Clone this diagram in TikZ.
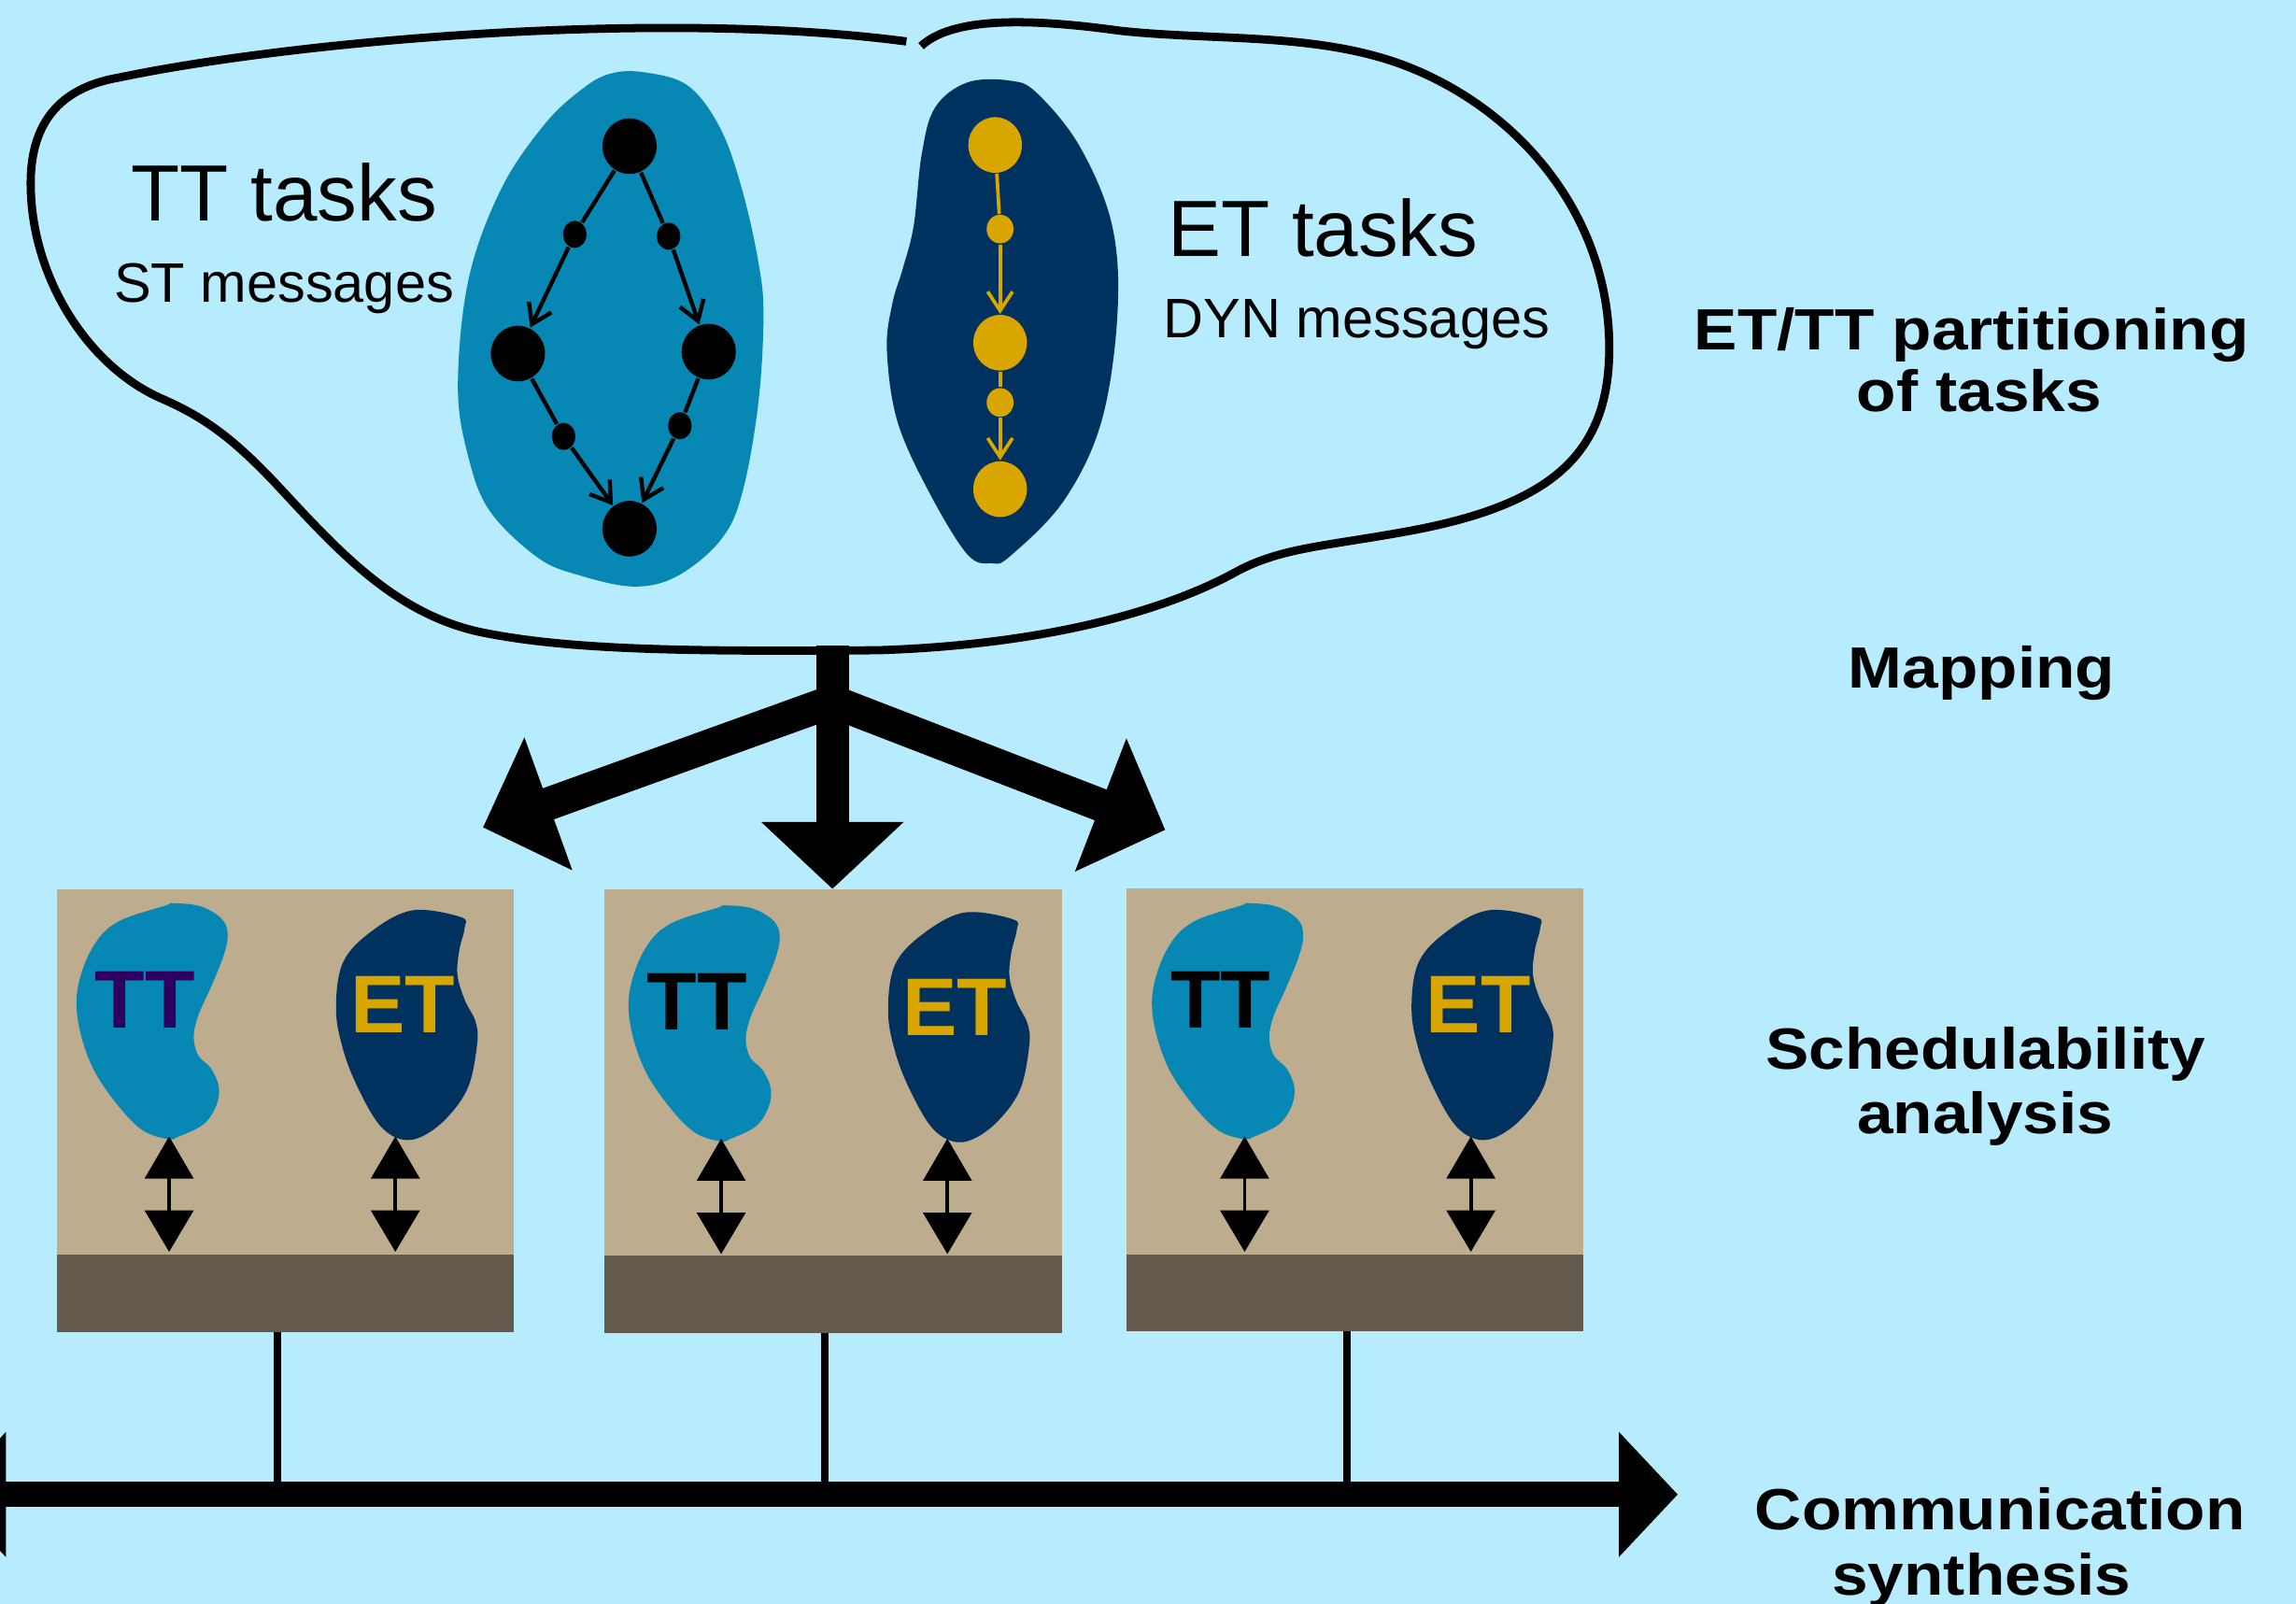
\documentclass[tikz,border=0pt]{standalone}
\usepackage{fontspec}
\setmainfont{Liberation Sans}
\newfontfamily\stepfont[FakeStretch=1.115]{Liberation Sans}
\usetikzlibrary{arrows.meta,shapes.geometric}

\definecolor{sky}{RGB}{183,236,254}
\definecolor{ttblue}{RGB}{7,135,179}
\definecolor{etnavy}{RGB}{0,50,96}
\definecolor{etgold}{RGB}{217,166,0}
\definecolor{cpubody}{RGB}{189,172,142}
\definecolor{cpubase}{RGB}{100,90,77}
\definecolor{ttpurple}{RGB}{45,0,96}

\begin{document}
\begin{tikzpicture}[x=0.1mm,y=-0.1mm,
  ttnode/.style={ellipse,fill=black,inner sep=0pt,minimum width=3.7mm,minimum height=3.8mm},
  ttmsg/.style={ellipse,fill=black,inner sep=0pt,minimum width=1.6mm,minimum height=1.86mm},
  etnode/.style={ellipse,fill=etgold,inner sep=0pt,minimum width=3.66mm,minimum height=3.8mm},
  etmsg/.style={ellipse,fill=etgold,inner sep=0pt,minimum width=1.84mm,minimum height=1.96mm},
  ttedge/.style={line width=0.28mm,draw=black},
  ttarrow/.style={ttedge,-{Straight Barb[length=1.3mm,width=1.7mm]}},
  etedge/.style={line width=0.24mm,draw=etgold},
  etarrow/.style={etedge,-{Straight Barb[length=1.3mm,width=1.7mm]}},
  steplabel/.style={font=\stepfont\bfseries\fontsize{11.3pt}{12.2pt}\selectfont,anchor=base,inner sep=0pt},
  tasklabel/.style={font=\fontsize{15.5pt}{18pt}\selectfont,anchor=base,inner sep=0pt},
  msglabel/.style={font=\fontsize{10.8pt}{13pt}\selectfont,anchor=base,inner sep=0pt},
  cputext/.style={font=\bfseries\fontsize{15.9pt}{18pt}\selectfont,anchor=base,inner sep=0pt},
  mapflow/.style={line width=2.25mm,draw=black},
  duplex/.style={line width=0.24mm,{Triangle[length=2.88mm,width=3.3mm]}-{Triangle[length=2.83mm,width=3.3mm]}},
  tap/.style={line width=0.5mm,draw=black},
  outline/.style={line width=0.56mm,draw=black}]

\useasboundingbox (0,0) rectangle (1568,1095);
\fill[sky] (0,0) rectangle (1568,1095);

% task sets inside the application outline
\fill[ttblue] plot[smooth cycle,tension=0.6] coordinates {
  (417.1,50.2) (440.9,49.5) (470.2,58.8) (492.1,88) (506.8,129.5) (517.8,178.4)
  (521.4,215) (517.8,276) (506.8,337) (492.1,368.8) (462.8,393.2) (433.5,400.5)
  (396.9,393.2) (367.6,381) (334.7,349.2) (320,312.6) (312.7,263.8) (320,190.6)
  (342,129.5) (371.3,85.6) (397,61.2)};
\fill[etnavy] plot[smooth cycle,tension=0.6] coordinates {
  (689.9,55.1) (660.6,56.3) (638.6,73.4) (629.5,105.1) (624,154) (616.6,183.2)
  (609.3,207.7) (605.7,239.4) (613,288.2) (635,337) (660.6,378.5) (677.1,384.6)
  (689.9,379.7) (726.5,341.9) (752.1,288.2) (763.1,215) (759.5,154) (737.5,100.2)
  (708.2,63.6)};

% application outline (open at the top)
\draw[outline] (629,31.5)
  .. controls (650,12) and (700,12) .. (765,21)
  .. controls (830,28) and (900,22) .. (960,45)
  .. controls (1040,76) and (1100,150) .. (1099,240)
  .. controls (1098,310) and (1060,345) .. (960,363)
  .. controls (905,373) and (875,374) .. (845,390)
  .. controls (800,415) and (720,440) .. (600,444)
  .. controls (470,445) and (390,444) .. (330,432)
  .. controls (270,420) and (230,375) .. (190,332)
  .. controls (160,300) and (140,285) .. (110,272)
  .. controls (60,250) and (22,190) .. (21,128)
  .. controls (20,85) and (40,60) .. (81,53)
  .. controls (200,28) and (450,6) .. (619,28.3);

% TT task graph
\node[ttnode] (t1) at (429.9,99.8) {};
\node[ttmsg]  (m1) at (392.5,160) {};
\node[ttmsg]  (m2) at (456.6,161.3) {};
\node[ttnode] (t2) at (353.7,241.4) {};
\node[ttnode] (t3) at (484,240.1) {};
\node[ttmsg]  (m3) at (384.9,298) {};
\node[ttmsg]  (m4) at (464.3,290.7) {};
\node[ttnode] (t4) at (429.9,361) {};
\draw[ttedge]  (t1) -- (m1);
\draw[ttarrow] (m1) -- (t2);
\draw[ttedge]  (t1) -- (m2);
\draw[ttarrow] (m2) -- (t3);
\draw[ttedge]  (t2) -- (m3);
\draw[ttarrow] (m3) -- (t4);
\draw[ttedge]  (t3) -- (m4);
\draw[ttarrow] (m4) -- (t4);

% ET task chain
\node[etnode] (e1) at (679.6,99) {};
\node[etmsg]  (n1) at (683,156.4) {};
\node[etnode] (e2) at (683,234) {};
\node[etmsg]  (n2) at (683,274.8) {};
\node[etnode] (e3) at (683,334) {};
\draw[etedge]  (e1) -- (n1);
\draw[etarrow] (n1) -- (e2);
\draw[etedge]  (e2) -- (n2);
\draw[etarrow] (n2) -- (e3);

\node[tasklabel] (ttl)  at (194,150.9) {TT tasks};
\node[msglabel]  (stl)  at (194,206.2) {ST messages};
\node[tasklabel] (etl)  at (903.5,175.4) {ET tasks};
\node[msglabel]  (dynl) at (926.5,230.7) {DYN messages};

% design steps
\node[steplabel] (p1)  at (1346.4,238.6) {ET/TT partitioning};
\node[steplabel] (p2)  at (1351.8,281.3) {of tasks};
\node[steplabel] (map) at (1353.4,470) {Mapping};
\node[steplabel] (s1)  at (1356,730.1) {Schedulability};
\node[steplabel] (s2)  at (1355.8,774.3) {analysis};
\node[steplabel] (c1)  at (1365.9,1044.4) {Communication};
\node[steplabel] (c2)  at (1353.3,1089) {synthesis};

% mapping onto the nodes
\coordinate (cloudfoot) at (568.5,441);
\coordinate (hub)       at (568.5,478.9);
\coordinate (downtip)   at (568.5,607);
\coordinate (lefttip)   at (329.8,565);
\coordinate (righttip)  at (795.8,566.7);
\draw[mapflow] (cloudfoot) -- (hub);
\draw[mapflow,-{Triangle[length=4.57mm,width=9.46mm]}] (hub) -- (downtip);
\draw[mapflow,-{Triangle[length=4.73mm,width=9.47mm]}] (hub) -- (righttip);
\draw[mapflow,-{Triangle[length=4.75mm,width=9.36mm]}] (hub) -- (lefttip);

% processing nodes
\foreach \rx/\ry/\cx/\cy/\tc/\n in {0/0/0/0/ttpurple/1, 374/0.5/377/1.5/black/2, 730.3/-0.5/734.5/0/black/3}{
  \begin{scope}[shift={(\rx,\ry)}]
    \fill[cpubody] (39,607) rectangle (351,857);
    \fill[cpubase] (39,857) rectangle (351,909.5);
    \coordinate (foot\n) at (189.4,909.5);
    \coordinate (tap\n)  at (189.4,1020.5);
  \end{scope}
  \begin{scope}[shift={(\cx,\cy)}]
    \fill[ttblue] plot[smooth cycle,tension=0.6] coordinates {
      (117.2,616.7) (136.7,618.8) (151.3,627.3) (155.5,637.9) (152.6,652.8)
      (144,674.1) (135.5,693.2) (132.3,708.1) (135.5,720.9) (144,729.4)
      (149.4,742.1) (147.7,754.9) (139.1,767.6) (122,776.1) (114.7,777.8)
      (97.6,771.9) (80.6,754.9) (63.5,729.4) (53.7,699.6) (53.2,674.1)
      (63.5,646.5) (80.6,629.4) (113.5,618.2)};
    \fill[etnavy] plot[smooth cycle,tension=0.6] coordinates {
      (281.9,621.6) (314.9,626.3) (317.3,633.7) (313.7,648.6) (312.4,665.6)
      (317.3,682.6) (324.7,697.5) (325.9,712.4) (319.8,742.1) (305.1,763.4)
      (288,776.1) (273.4,777.8) (258.7,767.6) (244.1,742.1) (234.3,716.6)
      (229.5,689) (234.3,657.1) (253.9,635.8)};
    \node[cputext,text=\tc] (tt\n) at (99,702) {TT};
    \node[cputext,text=etgold] (et\n) at (275.2,705.5) {ET};
    \coordinate (ttup\n)   at (115.5,776);
    \coordinate (ttdown\n) at (115.5,854.8);
    \coordinate (etup\n)   at (270,776);
    \coordinate (etdown\n) at (270,854.8);
    \draw[duplex] (ttup\n) -- (ttdown\n);
    \draw[duplex] (etup\n) -- (etdown\n);
  \end{scope}
  \draw[tap] (foot\n) -- (tap\n);
}

% communication bus
\coordinate (busL) at (-36,1020.5);
\coordinate (busR) at (1145.8,1020.5);
\draw[line width=1.7mm,{Triangle[length=4mm,width=8.3mm]}-{Triangle[length=4.02mm,width=8.3mm]}] (busL) -- (busR);

\end{tikzpicture}
\end{document}
